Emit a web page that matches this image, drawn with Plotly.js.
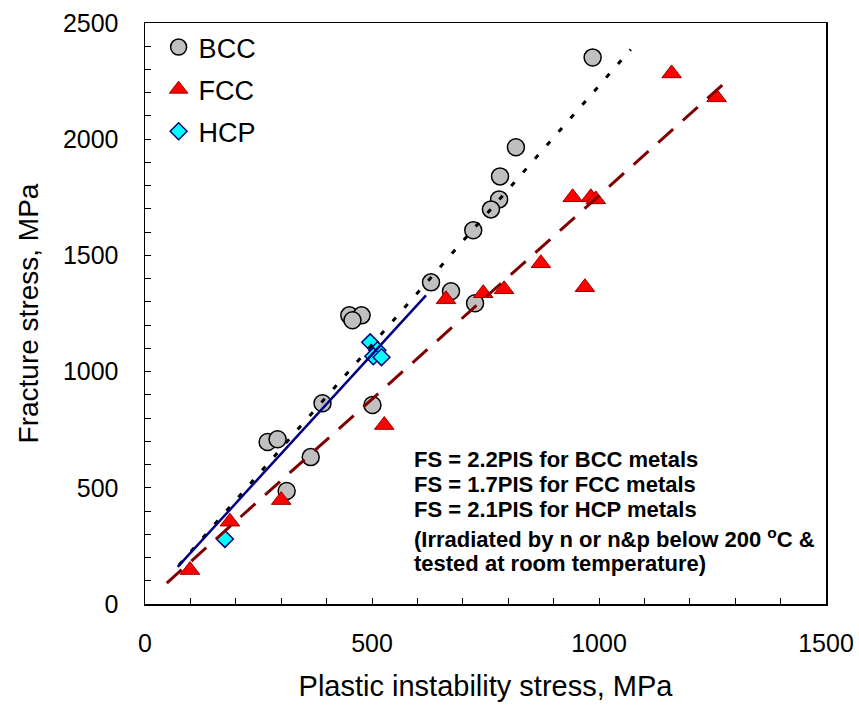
<!DOCTYPE html>
<html><head><meta charset="utf-8">
<script src="https://cdn.plot.ly/plotly-3.0.1.min.js"></script>
<style>html,body{margin:0;padding:0;background:#fff}#chart{width:859px;height:707px}</style>
</head><body><div id="chart"></div>
<script>
// BCC data (gray circles)
const bccX = [986, 817, 782, 780, 762, 723, 630, 674, 727, 450, 477, 457, 391, 501, 270, 292, 365, 312];
const bccY = [2352, 1965, 1840, 1741, 1698, 1608, 1384, 1346, 1294, 1242, 1242, 1221, 864, 856, 697, 709, 632, 486];
// FCC data (red triangles)
const fccX = [1160, 1259, 942, 982, 993, 872, 969, 791, 745, 663, 527, 300, 187, 99];
const fccY = [2283, 2180, 1750, 1750, 1741, 1466, 1363, 1354, 1337, 1311, 770, 447, 354, 146];
// HCP data (cyan diamonds)
const hcpX = [496, 512, 503, 521, 176];
const hcpY = [1126, 1092, 1066, 1062, 280];
// Fit lines (end points)
const bccFitX = [75, 1070];
const bccFitY = [168, 2386];
const fccFitX = [48, 1278];
const fccFitY = [90, 2244];
const hcpFitX = [72, 619];
const hcpFitY = [160, 1328];
// Labels
const seriesNames = ['BCC', 'FCC', 'HCP'];
const xTitle = 'Plastic instability stress, MPa';
const yTitle = 'Fracture stress, MPa';
const noteLines = [
  'FS = 2.2PIS for BCC metals',
  'FS = 1.7PIS for FCC metals',
  'FS = 2.1PIS for HCP metals',
  '(Irradiated by n or n&amp;p below 200 <sup>o</sup>C &amp;',
  'tested at room temperature)'
];
const noteY = [0.248, 0.205, 0.162, 0.113, 0.069];

const FONT = 'Liberation Sans, Arial, Helvetica, sans-serif';

const traces = [
  {x: bccX, y: bccY, name: seriesNames[0], mode: 'markers', type: 'scatter', legendgroup: 'a',
   marker: {symbol: 'circle', size: 17, color: '#c0c0c0', line: {color: '#000', width: 1.5}}},
  {x: fccX, y: fccY, name: seriesNames[1], mode: 'markers', type: 'scatter', legendgroup: 'b',
   marker: {symbol: 'triangle-up', size: 17, color: '#ff0000', line: {color: '#990000', width: 1}}},
  {x: hcpX, y: hcpY, name: seriesNames[2], mode: 'markers', type: 'scatter', legendgroup: 'c',
   marker: {symbol: 'diamond', size: 13, color: '#00ffff', line: {color: '#000080', width: 1.5}}},
  {x: bccFitX, y: bccFitY, mode: 'lines', type: 'scatter', showlegend: false,
   line: {color: '#000', width: 3, dash: '5px,13px'}},
  {x: fccFitX, y: fccFitY, mode: 'lines', type: 'scatter', showlegend: false,
   line: {color: '#800000', width: 3, dash: '20px,13px'}},
  {x: hcpFitX, y: hcpFitY, mode: 'lines', type: 'scatter', showlegend: false,
   line: {color: '#000080', width: 2.5}}
];

const axisCommon = {
  showgrid: false, zeroline: false, showline: true, mirror: true,
  linecolor: '#000', linewidth: 1.5,
  ticks: 'inside', ticklen: 6, tickwidth: 1, tickcolor: '#000',
  tickfont: {family: FONT, size: 25, color: '#000'},
  minor: {ticks: 'inside', ticklen: 6, tickwidth: 1, tickcolor: '#000'}
};

const layout = {
  width: 859, height: 707,
  margin: {l: 145, r: 33, t: 23, b: 103},
  paper_bgcolor: '#fff', plot_bgcolor: '#fff',
  showlegend: true,
  legend: {x: 0.02, y: 1.0, xanchor: 'left', yanchor: 'top', bgcolor: 'rgba(0,0,0,0)',
           font: {family: FONT, size: 27, color: '#000'}, tracegroupgap: 4, itemwidth: 30},
  xaxis: Object.assign({}, axisCommon, {
    range: [0, 1500], dtick: 500, tick0: 0, ticklabelstandoff: 16,
    minor: Object.assign({}, axisCommon.minor, {dtick: 100}),
    title: {text: xTitle, font: {family: FONT, size: 29, color: '#000'}, standoff: 20}
  }),
  yaxis: Object.assign({}, axisCommon, {
    range: [0, 2500], dtick: 500, tick0: 0, ticklabelstandoff: 20,
    minor: Object.assign({}, axisCommon.minor, {dtick: 100}),
    title: {text: yTitle, font: {family: FONT, size: 28, color: '#000'}, standoff: 16}
  }),
  annotations: noteLines.map((s, i) => ({
    xref: 'paper', yref: 'paper', x: 0.392, y: noteY[i], xanchor: 'left', yanchor: 'middle',
    align: 'left', showarrow: false,
    text: '<b>' + s + '</b>',
    font: {family: FONT, size: 22, color: '#000'}
  }))
};

Plotly.newPlot('chart', traces, layout, {displayModeBar: false, staticPlot: true});
</script>
</body></html>
